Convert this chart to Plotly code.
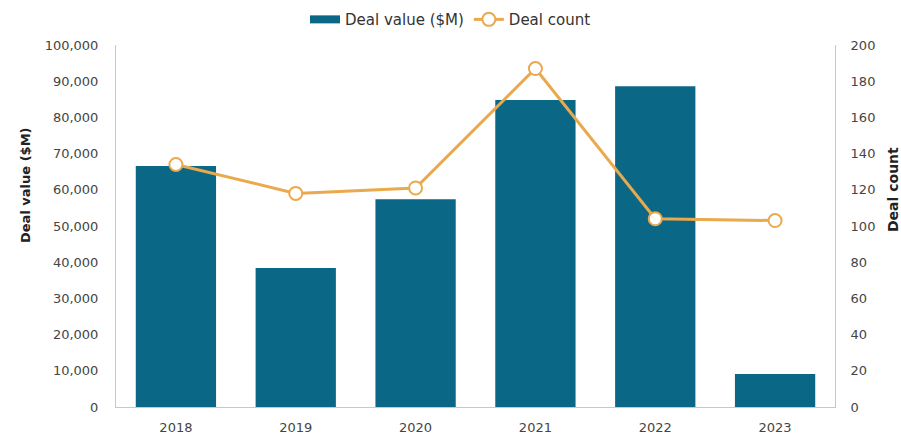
import plotly.graph_objects as go

years = ["2018", "2019", "2020", "2021", "2022", "2023"]
deal_value = [66600, 38400, 57400, 84800, 88600, 9100]
deal_count = [134, 118, 121, 187, 104, 103]

bar_color = "#0B6786"
line_color = "#E9A94C"
font_family = "DejaVu Sans, Verdana, sans-serif"
tick_color = "#454545"
title_color = "#222222"

fig = go.Figure()
fig.add_trace(go.Bar(
    x=years, y=deal_value, name="Deal value ($M)",
    marker=dict(color=bar_color, line=dict(width=0)),
    yaxis="y", showlegend=False,
))
# legend-only entry drawn as a wide rectangle swatch
fig.add_trace(go.Scatter(
    x=[years[0]], y=[None], name="Deal value ($M)", mode="lines",
    line=dict(color=bar_color, width=8), yaxis="y", hoverinfo="skip",
))
fig.add_trace(go.Scatter(
    x=years, y=deal_count, name="Deal count", mode="lines+markers",
    line=dict(color=line_color, width=3),
    marker=dict(size=13, color="white", line=dict(color=line_color, width=2)),
    yaxis="y2",
))

L, R, T, B = 116, 66, 45, 29
W, H = 901, 436
pw, ph = W - L - R, H - T - B

axis_line = "#C8C8C8"
fig.update_layout(
    width=W, height=H,
    margin=dict(l=L, r=R, t=T, b=B),
    paper_bgcolor="white", plot_bgcolor="white",
    font=dict(family=font_family, size=13, color=tick_color),
    bargap=0.33,
    showlegend=True,
    legend=dict(orientation="h", x=0.5, xanchor="center", xref="container",
                y=0.955, yanchor="middle", yref="container",
                font=dict(size=15, color="#333333"), traceorder="normal",
                itemwidth=30),
    xaxis=dict(showgrid=False, showline=True, linecolor=axis_line, linewidth=1,
               ticks="", tickfont=dict(size=13, color=tick_color),
               ticklabelstandoff=8, automargin=False),
    yaxis=dict(range=[0, 100000], dtick=10000, tickformat=",", showgrid=False,
               showline=True, linecolor=axis_line, linewidth=1, ticks="",
               ticklabelstandoff=14, zeroline=False, automargin=False,
               tickfont=dict(size=13, color=tick_color)),
    yaxis2=dict(range=[0, 200], dtick=20, overlaying="y", side="right",
                showgrid=False, showline=True, linecolor=axis_line, linewidth=1,
                ticks="", ticklabelstandoff=12, zeroline=False, automargin=False,
                tickfont=dict(size=13, color=tick_color)),
    annotations=[
        dict(text="<b>Deal value ($M)</b>", textangle=-90, showarrow=False,
             xref="paper", yref="paper", x=(25 - L) / pw, y=(H - B - 185) / ph,
             xanchor="center", yanchor="middle",
             font=dict(size=13, color=title_color)),
        dict(text="<b>Deal count</b>", textangle=-90, showarrow=False,
             xref="paper", yref="paper", x=(893 - L) / pw, y=(H - B - 190) / ph,
             xanchor="center", yanchor="middle",
             font=dict(size=14, color=title_color)),
    ],
)

fig.write_html("out.html")
